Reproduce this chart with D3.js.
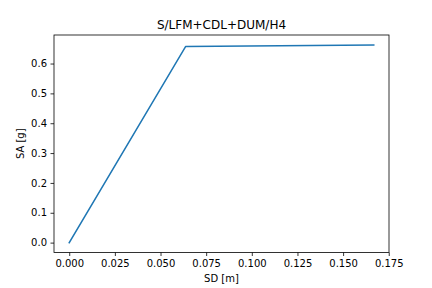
<!DOCTYPE html>
<html><head><meta charset="utf-8">
<script src="https://cdn.jsdelivr.net/npm/d3@7"></script>
<style>body{margin:0;background:#fff}svg{display:block}text{font-family:"DejaVu Sans",sans-serif;fill:#000}</style>
</head><body>
<script>
const sd = [0.0, 0.0638, 0.1668];
const sa = [0.0, 0.6575, 0.6625];
const xTicks = [0.000, 0.025, 0.050, 0.075, 0.100, 0.125, 0.150, 0.175];
const yTicks = [0.0, 0.1, 0.2, 0.3, 0.4, 0.5, 0.6];
const title = "S/LFM+CDL+DUM/H4";
const xLabel = "SD [m]";
const yLabel = "SA [g]";

const W = 432, H = 288;
const L = 54, R = 389, T = 35, B = 252.5;
const svg = d3.select("body").append("svg").attr("width", W).attr("height", H);

function pad(ext){const r = ext[1]-ext[0]; return [ext[0]-0.05*r, ext[1]+0.05*r];}
const x = d3.scaleLinear().domain(pad(d3.extent(sd))).range([L, R]);
const y = d3.scaleLinear().domain(pad(d3.extent(sa))).range([B, T]);

const xa = svg.append("g").attr("transform", `translate(0,${B})`)
  .call(d3.axisBottom(x).tickValues(xTicks).tickFormat(d3.format(".3f")).tickSize(3.5).tickPadding(3.5));
const ya = svg.append("g").attr("transform", `translate(${L},0)`)
  .call(d3.axisLeft(y).tickValues(yTicks).tickFormat(d3.format(".1f")).tickSize(3.5).tickPadding(3.5));
[xa, ya].forEach(g => {
  g.select(".domain").remove();
  g.selectAll(".tick line").attr("stroke", "#000").attr("stroke-width", 0.8);
  g.selectAll("text").attr("font-size", 10).attr("font-family", "DejaVu Sans").attr("fill", "#000");
});

const line = d3.line().x((d, i) => x(sd[i])).y((d, i) => y(sa[i]));
svg.append("path").datum(sd).attr("d", line).attr("fill", "none")
  .attr("stroke", "#1f77b4").attr("stroke-width", 1.5).attr("stroke-linejoin", "round").attr("stroke-linecap", "square");

svg.append("rect").attr("x", L).attr("y", T).attr("width", R - L).attr("height", B - T)
  .attr("fill", "none").attr("stroke", "#000").attr("stroke-width", 0.8);

svg.append("text").attr("x", (L + R) / 2).attr("y", T - 6).attr("text-anchor", "middle")
  .attr("font-size", 12).text(title);
svg.append("text").attr("x", (L + R) / 2).attr("y", 282).attr("text-anchor", "middle")
  .attr("font-size", 10).text(xLabel);
svg.append("text").attr("transform", `translate(24,${(T + B) / 2}) rotate(-90)`).attr("text-anchor", "middle")
  .attr("font-size", 10).text(yLabel);
</script>
</body></html>
